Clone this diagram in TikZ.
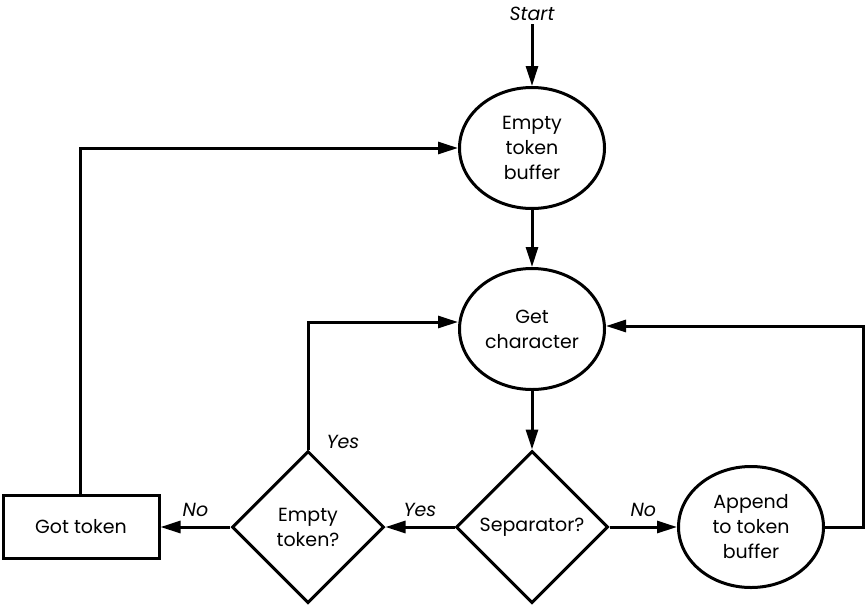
\documentclass[tikz,border=0pt]{standalone}
\usepackage{fontspec}
\setmainfont{Poppins}
\usetikzlibrary{shapes.geometric, arrows.meta, positioning}

\tikzset{
  flow/.style={line width=3pt, -{Triangle[length=20pt,width=12pt]}},
  oval/.style={draw, line width=3pt, ellipse, inner sep=0pt, align=center,
    minimum width=145pt, minimum height=121pt},
  test/.style={draw, line width=3pt, diamond, inner sep=0pt, align=center,
    minimum width=152pt, minimum height=152pt},
  plain/.style={draw, line width=3pt, rectangle, inner sep=0pt,
    minimum width=156pt, minimum height=63pt},
  answer/.style={font=\fontsize{19}{25}\selectfont\itshape}
}

\begin{document}
\begin{tikzpicture}[x=1pt, y=-1pt, font=\fontsize{19}{25}\selectfont]
  \useasboundingbox (0,0) rectangle (866,605);

  % states
  \node[answer] (start) at (532,14) {Start};
  \node[oval] (clear) at (532,148) {Empty\\token\\buffer};
  \node[oval] (getch) at (532,329) {Get\\character};
  \node[test] (sep) at (532,527) {Separator?};
  \node[oval] (append) at (751,527) {Append\\to token\\buffer};
  \node[test] (empty) at (308,527) {Empty\\token?};
  \node[plain] (got) at (81,527) {Got token};

  % corners of the loops
  \coordinate (loopr) at (863,326);
  \coordinate (loopg) at (80,147);

  % main line
  \draw[flow] (start) -- (clear);
  \draw[flow] (clear) -- (getch);
  \draw[flow] (getch) -- (sep);
  \draw[flow] (sep) -- node[answer, above=6pt] {No} (append);
  \draw[flow] (sep) -- node[answer, above=6pt] {Yes} (empty);
  \draw[flow] (empty) -- node[answer, above=6pt] {No} (got);

  % back edges
  \draw[flow] (append.east) -| (loopr) -- ([yshift=3pt]getch.east);
  \draw[flow] (empty.north) |- ([yshift=7pt]getch.west);
  \node[answer, anchor=west] (yes2) at (323,442) {Yes};
  \draw[flow] (got.north -| loopg) |- (clear.west);
\end{tikzpicture}
\end{document}
